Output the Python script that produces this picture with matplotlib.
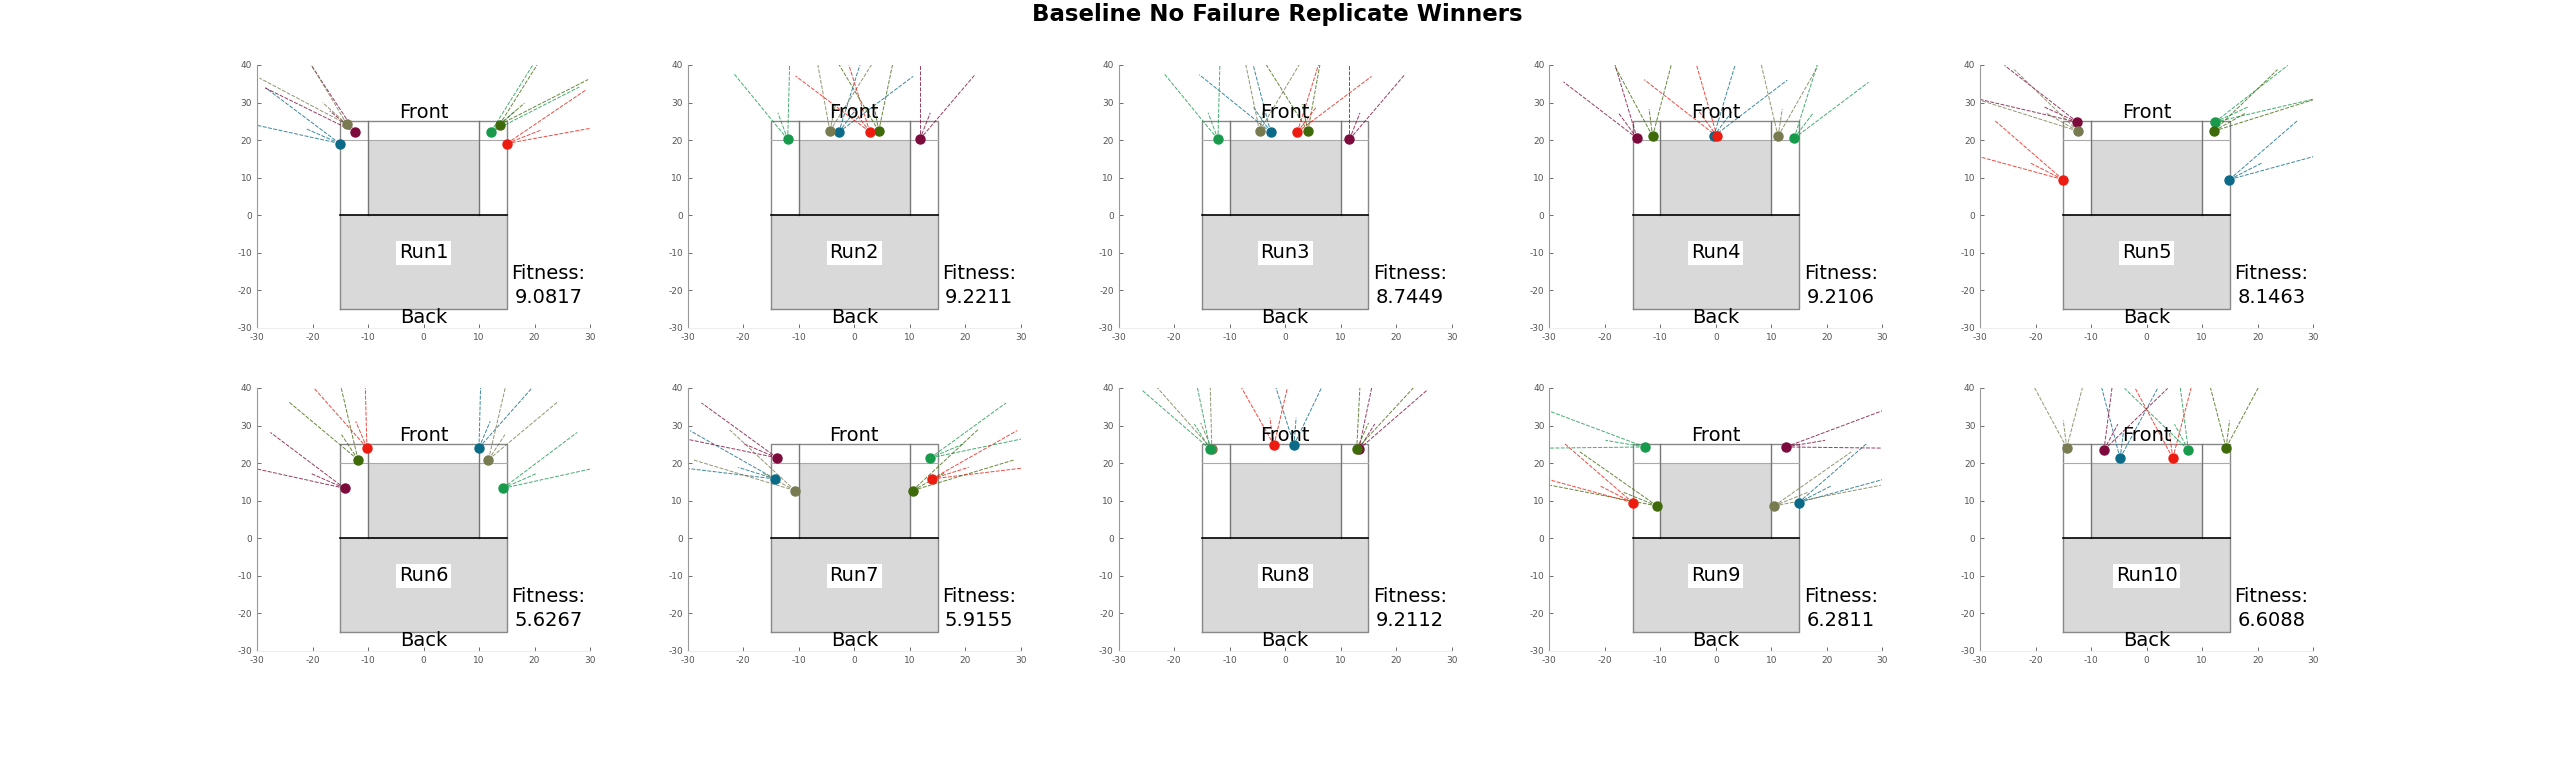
import matplotlib.pyplot as plt
import numpy as np

plt.rcParams['axes.unicode_minus'] = False

# run summary
run_names = ['Run1', 'Run2', 'Run3', 'Run4', 'Run5', 'Run6', 'Run7', 'Run8', 'Run9', 'Run10']
fitness = [9.0817, 9.2211, 8.7449, 9.2106, 8.1463, 5.6267, 5.9155, 9.2112, 6.2811, 6.6088]

# sensor order in every run: teal, maroon, olive, green, dark green, red
sensor_x = [
    [-15.1, -12.3, -13.8, 12.1, 13.7, 15.0],
    [-2.8, 11.8, -4.4, -12.0, 4.4, 2.8],
    [-2.6, 11.6, -4.6, -12.1, 4.1, 2.2],
    [-0.4, -14.2, 11.2, 14.1, -11.4, 0.2],
    [14.9, -12.5, -12.4, 12.3, 12.1, -15.1],
    [10.0, -14.2, 11.7, 14.3, -11.8, -10.2],
    [-14.3, -13.9, -10.7, 13.7, 10.5, 14.0],
    [1.6, 13.3, -13.2, -13.5, 12.9, -2.0],
    [14.9, 12.6, 10.5, -12.8, -10.6, -15.0],
    [-4.8, -7.7, -14.4, 7.5, 14.3, 4.7],
]
sensor_y = [
    [19.1, 22.1, 24.2, 22.1, 24.1, 19.1],
    [22.1, 20.2, 22.4, 20.2, 22.4, 22.2],
    [22.1, 20.2, 22.4, 20.2, 22.4, 22.1],
    [21.0, 20.5, 21.0, 20.5, 21.0, 21.0],
    [9.5, 24.8, 22.4, 24.8, 22.4, 9.5],
    [24.1, 13.3, 20.9, 13.3, 20.9, 24.1],
    [15.8, 21.4, 12.7, 21.4, 12.7, 15.8],
    [24.8, 23.7, 23.7, 23.7, 23.7, 24.8],
    [9.5, 24.3, 8.6, 24.3, 8.6, 9.5],
    [21.3, 23.5, 24.1, 23.5, 24.1, 21.3],
]
# heading of each sensor in degrees
sensor_heading = [
    [147, 129, 127, 52, 52, 30],
    [63, 75, 82, 104, 97, 117],
    [115, 75, 83, 104, 98, 63],
    [63.5, 116.5, 84, 63, 95, 116],
    [37, 146, 140, 34, 40, 143],
    [74, 147, 66, 33, 114, 106],
    [155, 148, 141, 32, 39, 25],
    [87, 67, 106, 113, 73, 96],
    [37, 14, 31, 166, 149, 143],
    [85, 70, 95, 110, 85, 95],
]
half_fov = 15
long_range = 20
short_range = 7.3

colors = ['#0b6a87', '#7d0a3c', '#787a50', '#179a4c', '#3e6a0a', '#ec1c10']
gray_fill = '#d9d9d9'

fig = plt.figure(figsize=(25.55, 7.8), dpi=100)
fig.text(0.5, 0.981, 'Baseline No Failure Replicate Winners', ha='center', va='center',
         fontsize=16.5, fontweight='bold')

for i in range(10):
    row, col = divmod(i, 5)
    left = (257 + 430.8 * col) / 2555
    bottom = [0.5795, 0.1654][row]
    ax = fig.add_axes([left, bottom, 333 / 2555, 0.3372])

    # robot body
    ax.fill([-15, 15, 15, -15], [-25, -25, 0, 0], color=gray_fill, lw=0)
    ax.fill([-10, 10, 10, -10], [0, 0, 20, 20], color=gray_fill, lw=0)
    ax.plot([-15, 15, 15, -15, -15], [-25, -25, 25, 25, -25], color='#888888', lw=1)
    ax.plot([-15, 15], [20, 20], color='#aaaaaa', lw=0.8)
    ax.plot([-10, -10], [0, 25], color='#777777', lw=1)
    ax.plot([10, 10], [0, 25], color='#777777', lw=1)
    ax.plot([-15, 15], [0, 0], color='black', lw=1.2)

    # sensor rays and positions
    for k in range(6):
        sx, sy = sensor_x[i][k], sensor_y[i][k]
        h = sensor_heading[i][k]
        for ang, rng in [(h - half_fov, long_range), (h + half_fov, long_range), (h, short_range)]:
            a = np.radians(ang)
            ax.plot([sx, sx + rng * np.cos(a)], [sy, sy + rng * np.sin(a)],
                    color=colors[k], lw=0.7, ls=(0, (4, 1.5)), alpha=0.8)
    for k in range(6):
        ax.plot(sensor_x[i][k], sensor_y[i][k], 'o', color=colors[k], ms=6.5, zorder=5)

    ax.text(0, 27.3, 'Front', ha='center', va='center', fontsize=14)
    ax.text(0, -27.3, 'Back', ha='center', va='center', fontsize=14)
    ax.text(0, -10, run_names[i], ha='center', va='center', fontsize=14,
            bbox=dict(facecolor='white', edgecolor='none', pad=2))
    ax.text(22.5, -18.7, 'Fitness:\n%.4f' % fitness[i], ha='center', va='center',
            fontsize=14, linespacing=1.3)

    ax.set_xlim(-30, 30)
    ax.set_ylim(-30, 40)
    ax.set_xticks(np.arange(-30, 31, 10))
    ax.set_yticks(np.arange(-30, 41, 10))
    ax.tick_params(direction='in', length=3, labelsize=6.5, colors='#555555', width=0.6)
    ax.spines['top'].set_visible(False)
    ax.spines['right'].set_visible(False)
    ax.spines['left'].set_color('#999999')
    ax.spines['bottom'].set_color('#eeeeee')

plt.savefig('out.png', dpi=100)
